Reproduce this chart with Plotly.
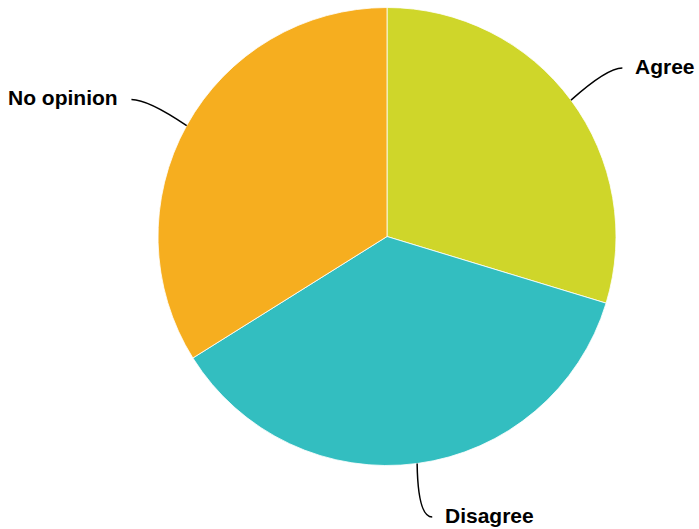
import math
import plotly.graph_objects as go

labels = ["Agree", "Disagree", "No opinion"]
values = [29.7, 36.4, 33.9]
colors = ["#CFD62A", "#33BEC0", "#F6AE1F"]

W, H = 699, 529
CX, CY, R = 387, 236.5, 229
LABEL_GAP = 54
SIDE_SHIFT = 8

fig = go.Figure(go.Pie(
    labels=labels, values=values, sort=False, direction="clockwise", rotation=0,
    marker=dict(colors=colors, line=dict(color="rgba(255,255,255,0.8)", width=1)),
    textinfo="none", hoverinfo="label+percent", showlegend=False,
    domain=dict(x=[(CX - R) / W, (CX + R) / W], y=[1 - (CY + R) / H, 1 - (CY - R) / H]),
))

def px(x):
    return x / W

def py(y):
    return 1 - y / H

total = sum(values)
cum = 0.0
shapes, annotations = [], []
for lab, v in zip(labels, values):
    mid = (cum + v / 2) / total * 2 * math.pi
    cum += v
    s, c = math.sin(mid), math.cos(mid)
    sign = 1 if s >= 0 else -1
    x0, y0 = CX + R * s, CY - R * c
    x2 = CX + (R + LABEL_GAP) * s + SIDE_SHIFT * sign
    y2 = CY - (R + LABEL_GAP) * c
    k = 0.7 if abs(s) > 0.5 else 0.05
    xc, yc = x0 + k * (x2 - x0), y2
    path = f"M {px(x0)},{py(y0)} Q {px(xc)},{py(yc)} {px(x2)},{py(y2)}"
    shapes.append(dict(type="path", path=path, xref="paper", yref="paper",
                       line=dict(color="#000000", width=1.5)))
    annotations.append(dict(
        x=px(x2 + 11 * sign), y=py(y2), xref="paper", yref="paper",
        text=lab, showarrow=False, xanchor="left" if sign > 0 else "right",
        yanchor="middle", yshift=2,
        font=dict(family="Liberation Sans, Arial, sans-serif", size=21, color="#000000", weight="bold"),
    ))

fig.update_layout(
    width=W, height=H, margin=dict(l=0, r=0, t=0, b=0),
    paper_bgcolor="#FFFFFF", plot_bgcolor="#FFFFFF",
    shapes=shapes, annotations=annotations,
)

fig.write_html("out.html", config={"displayModeBar": False},
               post_script="document.body.style.margin='0';document.body.style.overflow='hidden';")
